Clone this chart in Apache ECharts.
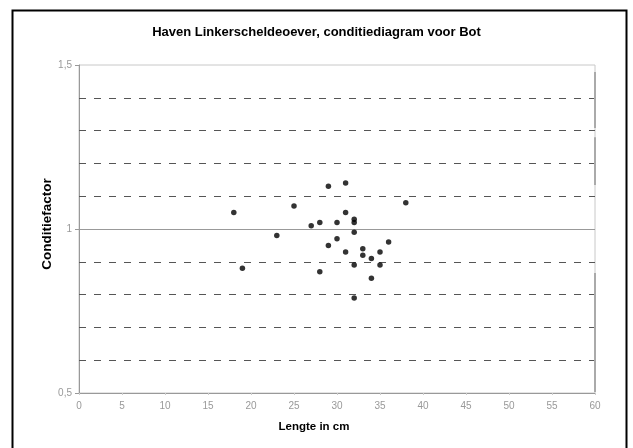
<!DOCTYPE html>
<html>
<head>
<meta charset="utf-8">
<script src="https://cdn.jsdelivr.net/npm/echarts@6/dist/echarts.min.js"></script>
<style>html,body{margin:0;padding:0;background:#fff}#c{width:633px;height:448px}</style>
</head>
<body>
<div id="c"></div>
<script>
var lengths = [18, 19, 23, 25, 27, 28, 28, 29, 29, 30, 30, 31, 31, 31, 32, 32, 32, 32, 32, 33, 33, 34, 34, 35, 35, 36, 38];
var factors = [1.05, 0.88, 0.98, 1.07, 1.01, 1.02, 0.87, 1.13, 0.95, 1.02, 0.97, 1.14, 1.05, 0.93, 1.03, 1.02, 0.99, 0.89, 0.79, 0.94, 0.92, 0.91, 0.85, 0.93, 0.89, 0.96, 1.08];
var yLabelValues = [0.5, 1, 1.5];
var dashedLevels = [0.6, 0.7, 0.8, 0.9, 1.1, 1.2, 1.3, 1.4];
var referenceLevel = 1;
// grey edge segments along the right border (x = 60), [from, to]
var rightEdgeSegments = [[1.479, 1.308], [1.28, 1.134], [0.866, 0.503]];

var points = lengths.map(function (x, i) { return [x, factors[i]]; });
var dashedData = dashedLevels.map(function (v) { return { yAxis: v }; });
var edgeData = rightEdgeSegments.map(function (s) { return [{ coord: [60, s[0]] }, { coord: [60, s[1]] }]; });

var chart = echarts.init(document.getElementById('c'));
chart.setOption({
  animation: false,
  backgroundColor: '#fff',
  title: {
    text: 'Haven Linkerscheldeoever, conditiediagram voor Bot',
    left: 'center', top: 21,
    textStyle: { fontFamily: 'Liberation Sans', fontSize: 13, fontWeight: 'bold', color: '#000' }
  },
  graphic: [{
    type: 'rect', left: 10, top: 8, shape: { width: 614, height: 460 },
    style: { fill: 'none', stroke: '#000', lineWidth: 2 }, silent: true
  }],
  grid: { left: 79, right: 38, top: 65, bottom: 55, show: true, borderColor: '#c8c8c8', borderWidth: 1, backgroundColor: 'transparent' },
  xAxis: {
    type: 'value', min: 0, max: 60, interval: 5,
    name: 'Lengte in cm', nameLocation: 'middle', nameGap: 28, nameMoveOverlap: false,
    nameTextStyle: { fontFamily: 'Liberation Sans', fontSize: 11.5, fontWeight: 'bold', color: '#000', padding: [0, 46, 0, 0] },
    axisLine: { lineStyle: { color: '#999' } },
    axisTick: { show: true, length: 2, lineStyle: { color: '#ccc' } },
    axisLabel: { fontFamily: 'Liberation Sans', fontSize: 10, color: '#999', margin: 8 },
    splitLine: { show: false }
  },
  yAxis: {
    type: 'value', min: 0.5, max: 1.5, interval: 0.1,
    name: 'Conditiefactor', nameLocation: 'middle', nameGap: 25, nameRotate: 90, nameMoveOverlap: false,
    nameTextStyle: { fontFamily: 'Liberation Sans', fontSize: 13.5, fontWeight: 'bold', color: '#000', padding: [0, 0, 0, 10] },
    axisLine: { lineStyle: { color: '#999' } },
    axisTick: { show: true, length: 4, customValues: yLabelValues, lineStyle: { color: '#999' } },
    axisLabel: {
      customValues: yLabelValues,
      fontFamily: 'Liberation Sans', fontSize: 10, color: '#999', margin: 7,
      formatter: function (v) { return String(Math.round(v * 10) / 10).replace('.', ','); }
    },
    splitLine: { show: false }
  },
  series: [{
    type: 'scatter', data: points, symbol: 'circle', symbolSize: 5.5,
    itemStyle: { color: '#000' }, z: 5,
    markLine: {
      silent: true, symbol: 'none', label: { show: false },
      lineStyle: { color: '#555', type: [7, 8], width: 1 },
      data: dashedData.concat([{ yAxis: referenceLevel, lineStyle: { color: '#999', type: 'solid', width: 1 } }])
    }
  }, {
    type: 'line', data: [], silent: true,
    markLine: {
      silent: true, symbol: 'none', label: { show: false },
      lineStyle: { color: '#aaa', type: 'solid', width: 2 },
      data: edgeData
    }
  }]
});
</script>
</body>
</html>
